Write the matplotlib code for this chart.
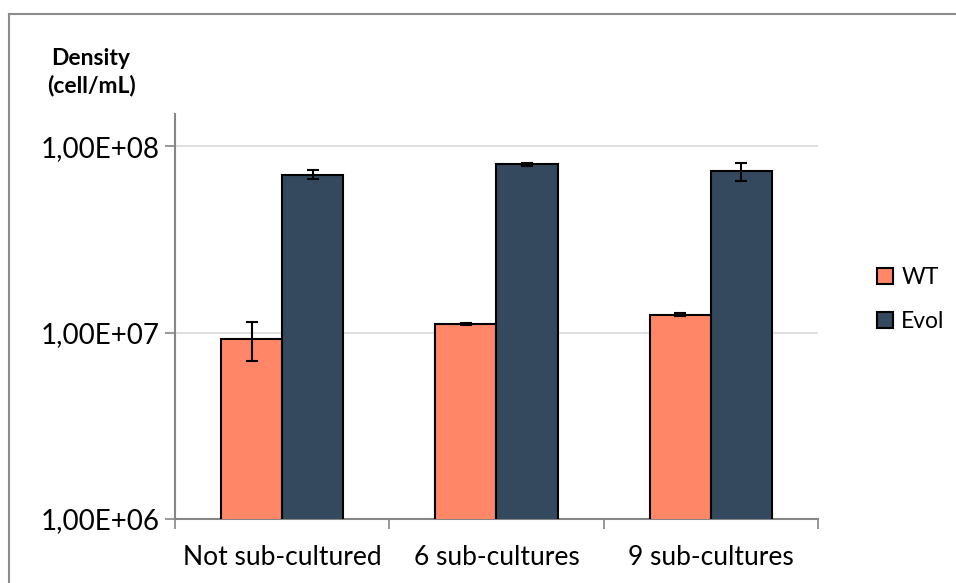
import matplotlib.pyplot as plt
from matplotlib.lines import Line2D
import numpy as np

categories = ['Not sub-cultured', '6 sub-cultures', '9 sub-cultures']
wt_values = [9.2e6, 1.11e7, 1.25e7]
wt_errors = [2.15e6, 1.2e5, 2.0e5]
evol_values = [7.05e7, 8.03e7, 7.35e7]
evol_errors = [4.0e6, 1.5e6, 8.0e6]
y_ticks = [1e6, 1e7, 1e8]
y_tick_labels = ['1,00E+06', '1,00E+07', '1,00E+08']

plt.rcParams['font.family'] = ['Lato', 'DejaVu Sans']

fig = plt.figure(figsize=(9.56, 5.83), dpi=100)
ax = fig.add_axes([175 / 956, 1 - 519 / 583, 643 / 956, 405 / 583])

# рамка вокруг диаграммы (видны только верх и левый край)
fig.add_artist(Line2D([9 / 956, 1.0], [1 - 13.5 / 583] * 2, transform=fig.transFigure,
                      color='#8c8c8c', linewidth=1.5))
fig.add_artist(Line2D([9 / 956] * 2, [0.0, 1 - 13.5 / 583], transform=fig.transFigure,
                      color='#8c8c8c', linewidth=1.5))

x = np.arange(len(categories))
w = 0.286
err_kw = dict(ecolor='black', elinewidth=1.5, capsize=4.3, capthick=1.5)
ax.bar(x - w / 2, wt_values, w, yerr=wt_errors, color='#ff8667', edgecolor='black',
       linewidth=1.5, label='WT', error_kw=err_kw, zorder=3)
ax.bar(x + w / 2, evol_values, w, yerr=evol_errors, color='#34495e', edgecolor='black',
       linewidth=1.5, label='Evol', error_kw=err_kw, zorder=3)

ax.set_yscale('log')
ax.set_ylim(1e6, 1.49e8)
ax.set_xlim(-0.5, 2.5)
ax.set_yticks(y_ticks)
ax.set_yticklabels(y_tick_labels, fontsize=20)
ax.yaxis.set_minor_locator(plt.NullLocator())
ax.tick_params(axis='y', which='major', length=7, color='#868686', width=1.2, pad=4)

ax.set_xticks(x)
ax.set_xticklabels(categories, fontsize=19)
ax.set_xticks(np.arange(-0.5, 3, 1.0), minor=True)
ax.tick_params(axis='x', which='major', length=0, pad=19)
ax.tick_params(axis='x', which='minor', length=7, color='#868686', width=1.2)

ax.grid(axis='y', which='major', color='#d9d9d9', linewidth=1.2, zorder=0)
ax.set_axisbelow(True)
for side in ['top', 'right']:
    ax.spines[side].set_visible(False)
for side in ['left', 'bottom']:
    ax.spines[side].set_color('#868686')
    ax.spines[side].set_linewidth(1.5)

fig.text(91 / 956, 1 - 72 / 583, 'Density\n(cell/mL)', ha='center', va='center',
         fontsize=16.5, fontweight='bold', linespacing=1.35)

ax.legend(loc='center left', bbox_to_anchor=(1.06, 0.543), frameon=False, fontsize=16.5,
          handlelength=0.7, handleheight=0.7, handletextpad=0.35, labelspacing=1.0)

fig.savefig('out.png', dpi=100)
